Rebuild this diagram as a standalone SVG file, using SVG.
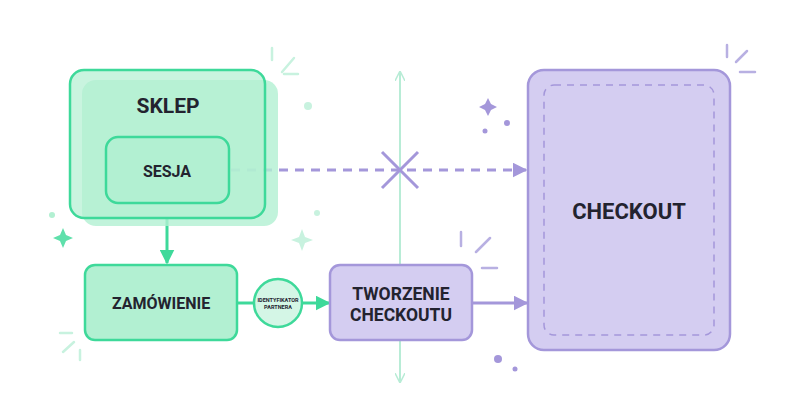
<svg xmlns="http://www.w3.org/2000/svg" width="800" height="420" viewBox="0 0 800 420">
<style>
text{font-family:Roboto,"Liberation Sans",sans-serif;font-weight:700;fill:#23232f;text-anchor:middle}
.g{fill:#b2f0d2;stroke:#3ed99a;stroke-width:2.5}
.p{fill:#d4cdf1;stroke:#a497da;stroke-width:2.5}
.gl{stroke:#3ed99a;stroke-width:3;fill:none}
.pl{stroke:#a497da;stroke-width:3;fill:none}
.deco{stroke:#c8f2df;stroke-width:2.5;fill:none;stroke-linecap:round}
.decop{stroke:#b8b0e2;stroke-width:2.5;fill:none;stroke-linecap:round}
</style>
<defs>
<marker id="ag" viewBox="0 0 10 10" refX="9" refY="5" markerWidth="5" markerHeight="5" orient="auto"><path d="M0,0L10,5L0,10z" fill="#3ed99a"/></marker>
<marker id="ap" viewBox="0 0 10 10" refX="9" refY="5" markerWidth="5" markerHeight="5" orient="auto"><path d="M0,0L10,5L0,10z" fill="#a497da"/></marker>
<marker id="av" viewBox="0 0 10 10" refX="9" refY="5" markerWidth="5" markerHeight="5" orient="auto"><path d="M0,0L10,5L0,10" fill="none" stroke="#b8ecd6" stroke-width="1.5"/></marker>
</defs>
<rect width="800" height="420" fill="#fff"/>
<g id="decor">
<path class="deco" d="M272 48V60M282 72L294 58M284 74H298"/>
<circle cx="308" cy="106" r="4" fill="#c8f2df"/>
<circle cx="52" cy="215" r="3" fill="#b2f0d2"/>
<path d="M63 228l3 7 7 3-7 3-3 7-3-7-7-3 7-3z" fill="#5fe0ab"/>
<circle cx="317" cy="213" r="3" fill="#c8f2df"/>
<path d="M302 229l3 8 8 3-8 3-3 8-3-8-8-3 8-3z" fill="#c8f2df"/>
<path class="deco" d="M60 333H72M63 352L74 342M80 350V360"/>
<path class="decop" d="M727 45V57M736 62L747 51M740 72H755"/>
<path d="M488 98l3 6 6 3-6 3-3 6-3-6-6-3 6-3z" fill="#a497da"/>
<circle cx="507" cy="123" r="3" fill="#a497da"/>
<circle cx="485" cy="131" r="2.5" fill="#a497da"/>
<path class="decop" d="M461 232V246M476 252L490 238M482 268H497"/>
<circle cx="498" cy="359" r="4" fill="#a497da"/>
<circle cx="515" cy="369" r="2.5" fill="#a497da"/>
</g>
<g id="connectors">
<line x1="400" y1="380" x2="400" y2="72" stroke="#b8ecd6" stroke-width="2" marker-end="url(#av)"/>
<line x1="400" y1="72" x2="400" y2="382" stroke="#b8ecd6" stroke-width="2" marker-end="url(#av)"/>
<line x1="231" y1="170" x2="526" y2="170" class="pl" stroke-dasharray="9 7" marker-end="url(#ap)"/>
<path d="M382 152L418 188M418 152L382 188" class="pl"/>
<line x1="167" y1="218" x2="167" y2="263" class="gl" marker-end="url(#ag)"/>
<line x1="237" y1="303" x2="254" y2="303" class="gl"/>
<line x1="302" y1="303" x2="329" y2="303" class="gl" marker-end="url(#ag)"/>
<line x1="472" y1="303" x2="527" y2="303" class="pl" marker-end="url(#ap)"/>
</g>
<g id="sklep">
<rect x="82" y="80" width="196" height="146" rx="14" fill="#b2f0d2" opacity="0.8"/>
<rect x="70" y="70" width="195" height="148" rx="14" class="g" fill-opacity="0.7"/>
<text x="168" y="113" font-size="21">SKLEP</text>
</g>
<g id="sesja">
<rect x="106" y="137" width="123" height="66" rx="12" class="g"/>
<text x="167" y="177" font-size="16">SESJA</text>
</g>
<g id="zamowienie">
<rect x="85" y="265" width="152" height="75" rx="10" class="g"/>
<text x="161" y="309" font-size="16">ZAMÓWIENIE</text>
</g>
<g id="identyfikator">
<circle cx="278" cy="303" r="24" fill="#d4f6e6" stroke="#3ed99a" stroke-width="2.5"/>
<text x="278" y="302" font-size="5.5">IDENTYFIKATOR</text>
<text x="278" y="309" font-size="5.5">PARTNERA</text>
</g>
<g id="tworzenie">
<rect x="330" y="265" width="142" height="75" rx="10" class="p"/>
<text x="401" y="300" font-size="17.5">TWORZENIE</text>
<text x="401" y="321" font-size="17.5">CHECKOUTU</text>
</g>
<g id="checkout">
<rect x="528" y="70" width="202" height="280" rx="16" class="p"/>
<rect x="544" y="85" width="170" height="250" rx="10" fill="none" stroke="#a497da" stroke-width="1.5" stroke-dasharray="7 6"/>
<text x="629" y="219" font-size="22">CHECKOUT</text>
</g>
</svg>
